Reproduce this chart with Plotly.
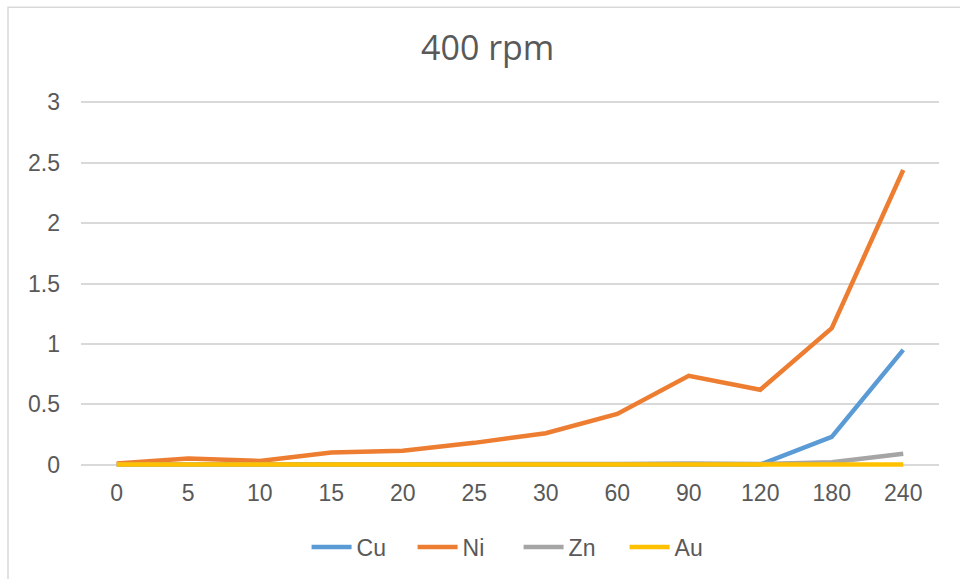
import plotly.graph_objects as go

categories = ["0", "5", "10", "15", "20", "25", "30", "60", "90", "120", "180", "240"]
cu = [0.0, 0.0, 0.0, 0.0, 0.0, 0.0, 0.0, 0.0, 0.0, 0.0, 0.23, 0.95]
ni = [0.01, 0.05, 0.03, 0.10, 0.115, 0.18, 0.26, 0.42, 0.735, 0.62, 1.13, 2.44]
zn = [0.0, 0.0, 0.0, 0.0, 0.0, 0.0, 0.0, 0.005, 0.01, 0.005, 0.02, 0.09]
au = [0.0, 0.0, 0.0, 0.0, 0.0, 0.0, 0.0, 0.0, 0.0, 0.0, 0.0, 0.0]
y_ticks = [0, 0.5, 1, 1.5, 2, 2.5, 3]
y_labels = ["0", "0.5", "1", "1.5", "2", "2.5", "3"]

series = [("Cu", cu, "#5B9BD5"), ("Ni", ni, "#ED7D31"), ("Zn", zn, "#A5A5A5"), ("Au", au, "#FFC000")]

fig = go.Figure()
for name, vals, color in series:
    fig.add_trace(go.Scatter(x=categories, y=vals, name=name, mode="lines",
                             line=dict(color=color, width=4.5)))

text_color = "#595959"
top, bottom = 100, 111
plot_h = 579 - top - bottom
fig.update_layout(
    width=960, height=579,
    paper_bgcolor="white", plot_bgcolor="white",
    margin=dict(l=81, r=21, t=top, b=bottom),
    title=dict(text="400 rpm", x=0.508, xanchor="center", y=1 - 48 / 579, yanchor="middle",
               font=dict(family="Open Sans, Noto Sans, sans-serif", size=34, color=text_color)),
    font=dict(family="Liberation Sans, Arial, sans-serif", size=23, color=text_color),
    showlegend=True,
    legend=dict(orientation="h", x=0.51, xanchor="center", y=(468 - 547) / plot_h, yanchor="middle",
                font=dict(size=23, color=text_color), itemwidth=40, entrywidth=51,
                traceorder="normal"),
    xaxis=dict(type="category", range=[-0.5, 11.5], showgrid=False, showline=False, ticks="",
               tickfont=dict(size=23, color=text_color), ticklabelstandoff=10, zeroline=False),
    yaxis=dict(range=[-0.02, 3.02], tickvals=y_ticks, ticktext=y_labels, showgrid=True,
               gridcolor="#D9D9D9", gridwidth=1.5, zeroline=False, showline=False, ticks="",
               tickfont=dict(size=23, color=text_color), ticklabelstandoff=20),
    shapes=[dict(type="rect", xref="paper", yref="paper", x0=(8 - 81) / 858, x1=1.2,
                 y0=-0.6, y1=(468 - 7) / plot_h, line=dict(color="#D9D9D9", width=1.5),
                 fillcolor="rgba(0,0,0,0)", layer="below")],
)

fig.write_html("out.html")
